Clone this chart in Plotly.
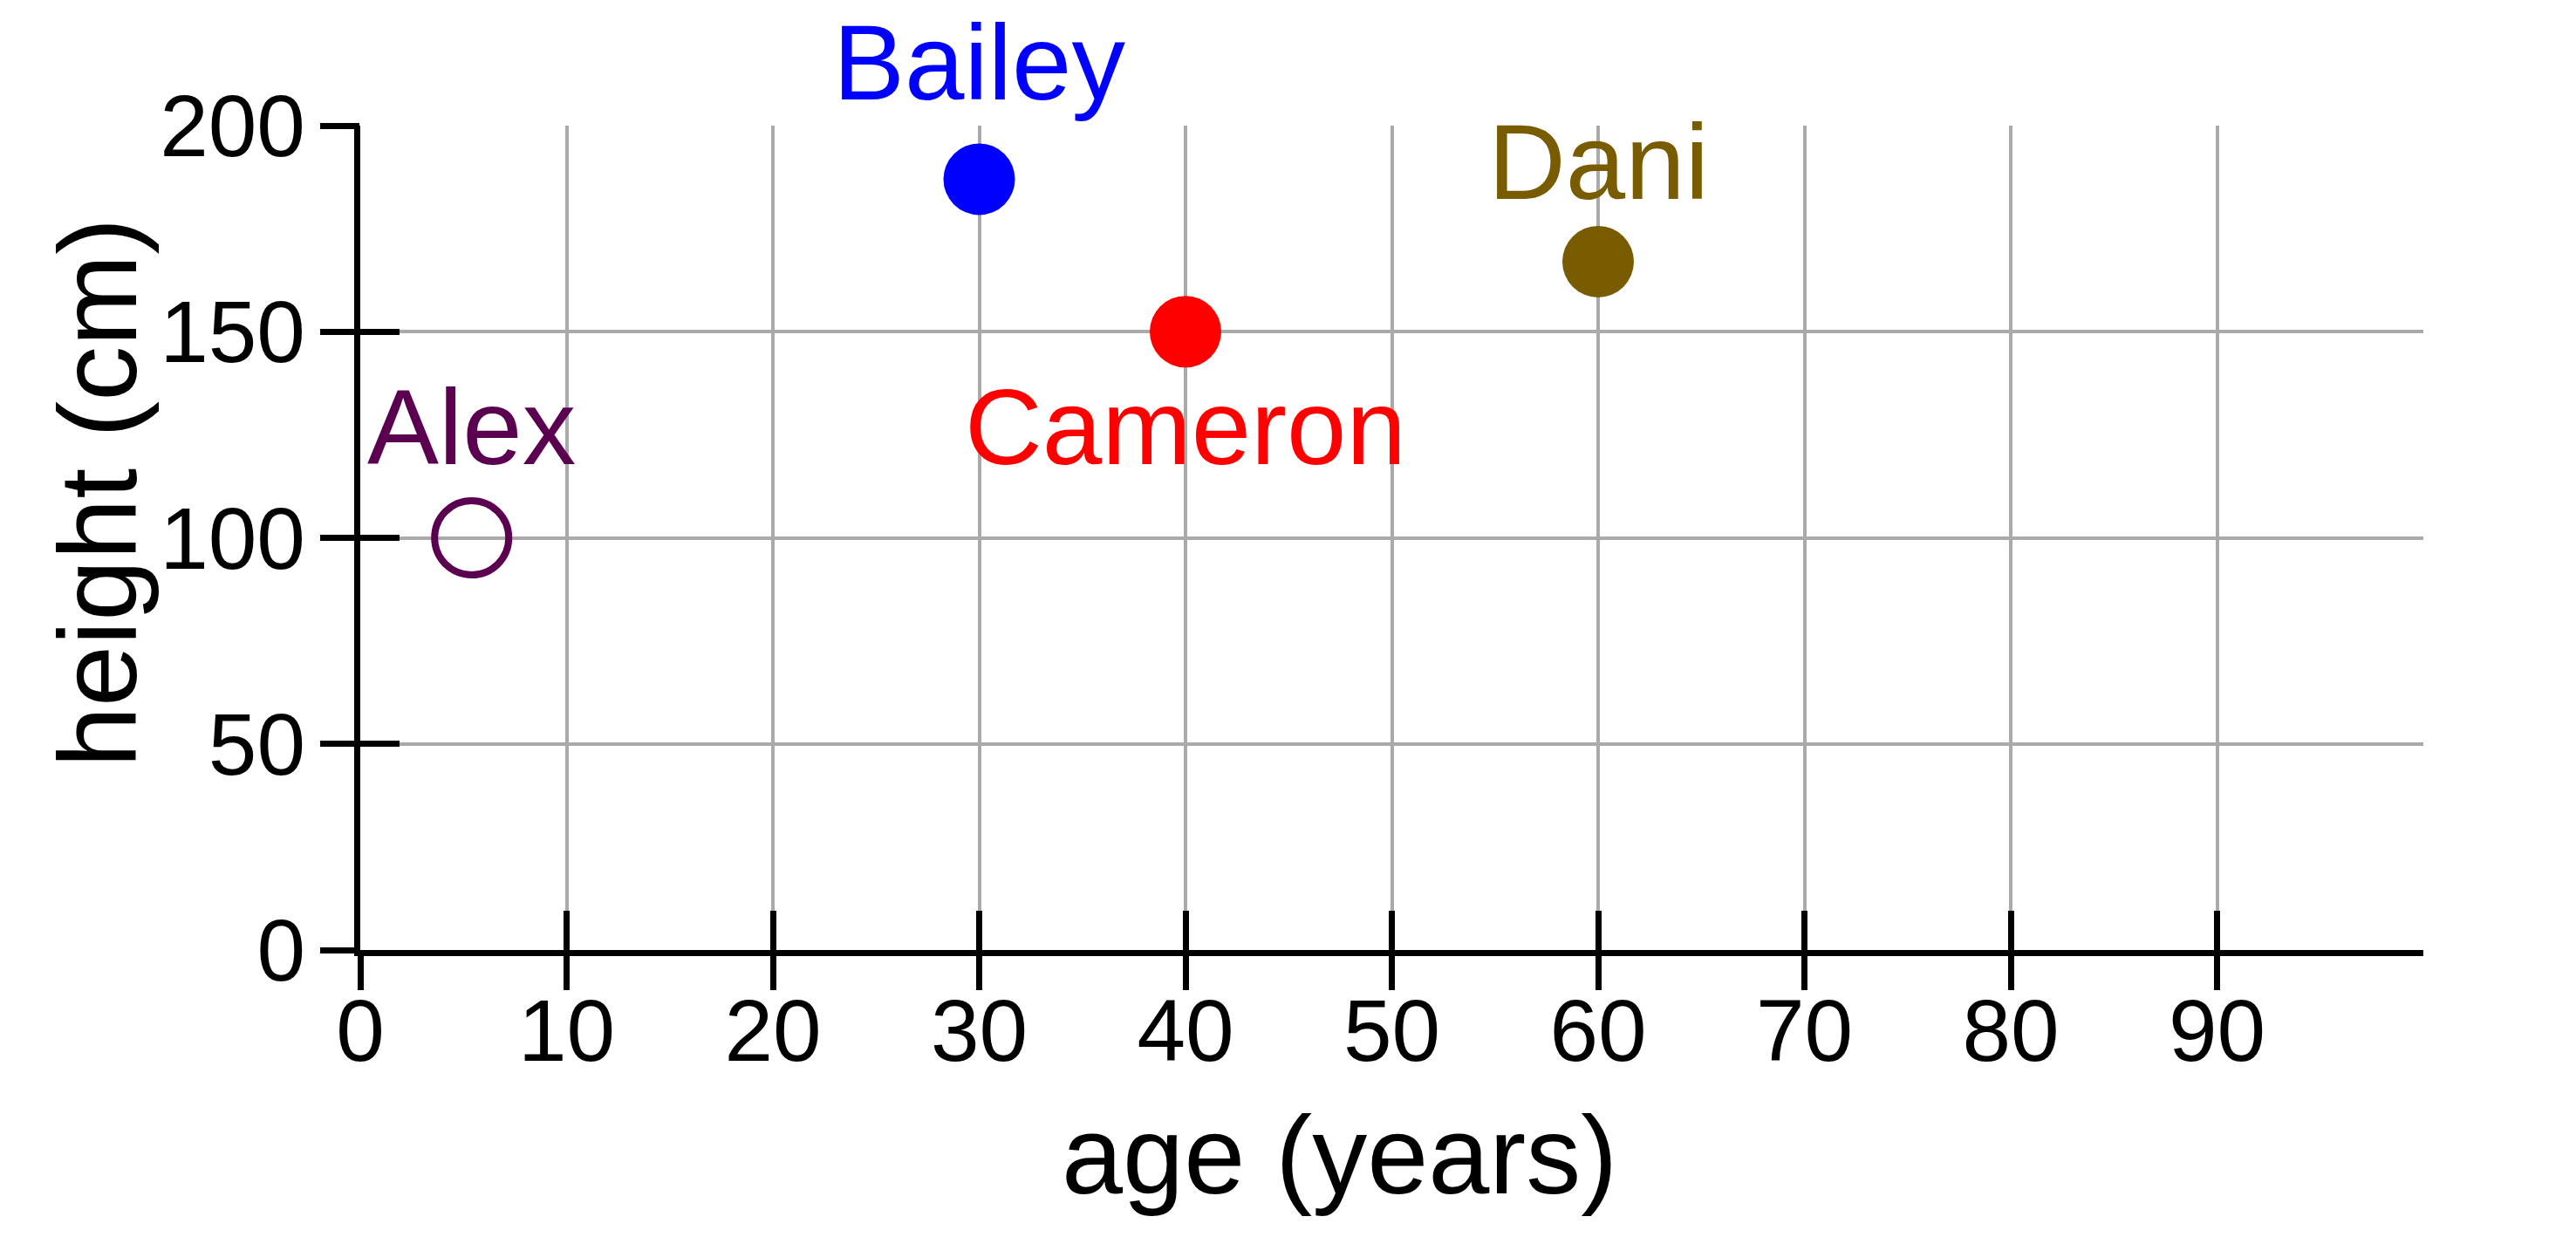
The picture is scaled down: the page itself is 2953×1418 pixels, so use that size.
import plotly.graph_objects as go

# ---- data ----
names = ["Alex", "Bailey", "Cameron", "Dani"]
ages = [5.4, 30, 40, 60]
heights = [100, 187, 150, 167]
x_ticks = [0, 10, 20, 30, 40, 50, 60, 70, 80, 90]
y_ticks = [0, 50, 100, 150, 200]

# ---- styling ----
colors = ["#5b0050", "#0000ff", "#ff0000", "#7a5c00"]
open_marker = [True, False, False, False]
label_shift = [127, 134, -109, 114]   # pixel offset of label centre from the point
FONT = "Liberation Sans, Arial, sans-serif"

BODY = 8                      # default page margin around the plot div
W, H = 2953 - 2 * BODY, 1418 - 2 * BODY
PX0, PX1 = 413, 2778          # plot area in window pixels
PY1, PY0 = 144, 1089
L = PX0 - BODY
T = PY1 - BODY
R = W - (PX1 - BODY)
B = H - (PY0 - BODY)
LW = 7
TL = 45

fig = go.Figure()
for n, a, h, c, o in zip(names, ages, heights, colors, open_marker):
    if o:
        marker = dict(symbol="circle-open", size=85, color=c, line=dict(width=8, color=c))
    else:
        marker = dict(symbol="circle", size=82, color=c, line=dict(width=0))
    fig.add_trace(go.Scatter(x=[a], y=[h], mode="markers", marker=marker,
                             showlegend=False, hoverinfo="skip", cliponaxis=False))

# dummy traces for the overlaying axes (the two halves of crossing ticks)
fig.add_trace(go.Scatter(x=[], y=[], xaxis="x2", yaxis="y2", showlegend=False, hoverinfo="skip"))
fig.add_trace(go.Scatter(x=[], y=[], xaxis="x2", yaxis="y3", showlegend=False, hoverinfo="skip"))

annotations = []
for n, a, h, c, s in zip(names, ages, heights, colors, label_shift):
    annotations.append(dict(x=a, y=h, xref="x", yref="y", text=n, showarrow=False,
                            xanchor="center", yanchor="middle", yshift=s,
                            font=dict(family=FONT, size=123, color=c)))

plot_w = PX1 - PX0
plot_h = PY0 - PY1
annotations.append(dict(x=(1535 - PX0) / plot_w, y=(PY0 - 1324) / plot_h, xref="paper", yref="paper",
                        text="age (years)", showarrow=False, xanchor="center", yanchor="middle",
                        font=dict(family=FONT, size=126, color="black")))
annotations.append(dict(x=(112 - PX0) / plot_w, y=(PY0 - 565) / plot_h, xref="paper", yref="paper",
                        text="height (cm)", showarrow=False, xanchor="center", yanchor="middle",
                        textangle=-90, font=dict(family=FONT, size=126, color="black")))

axis_common = dict(showline=True, linecolor="black", linewidth=LW, zeroline=False,
                   tickcolor="black", tickwidth=LW,
                   gridcolor="#aaaaaa", gridwidth=3.5,
                   tickfont=dict(family=FONT, size=100, color="black"))
overlay_common = dict(showline=False, showgrid=False, zeroline=False, showticklabels=False,
                      tickcolor="black", tickwidth=LW, ticklen=TL)

fig.update_layout(
    width=W, height=H, autosize=False,
    margin=dict(l=L, r=R, t=T, b=B, pad=0),
    plot_bgcolor="white", paper_bgcolor="white",
    xaxis=dict(range=[0, 100], tickmode="array", tickvals=x_ticks, ticks="inside", ticklen=TL,
               showgrid=True, **axis_common),
    yaxis=dict(range=[0, 200], tickmode="array", tickvals=y_ticks, ticks="outside", ticklen=TL - 9,
               showgrid=True, **axis_common),
    xaxis2=dict(range=[0, 100], tickmode="array", tickvals=x_ticks, ticks="outside",
                overlaying="x", anchor="y2", side="bottom", **overlay_common),
    yaxis2=dict(range=[0, 200], tickmode="array", tickvals=y_ticks, ticks="inside",
                overlaying="y", anchor="x2", side="left", **overlay_common),
    yaxis3=dict(range=[0, 200], tickmode="array", tickvals=y_ticks, ticks="outside",
                overlaying="y", anchor="x2", side="left", **overlay_common),
    annotations=annotations,
    font=dict(family=FONT),
)

fig.write_html("out.html")
